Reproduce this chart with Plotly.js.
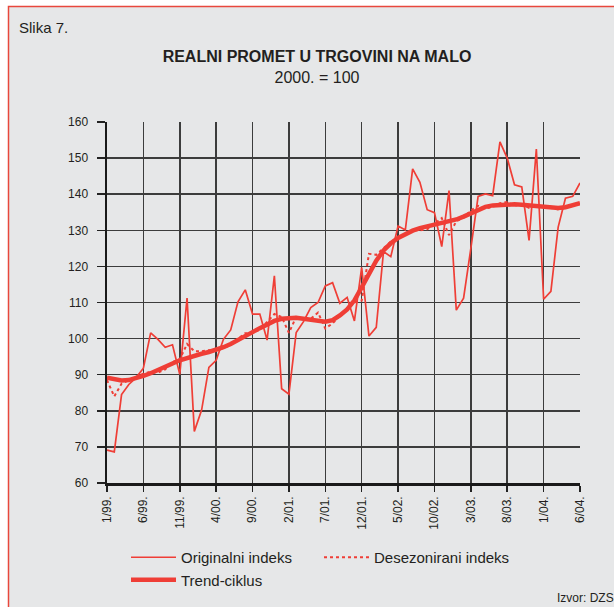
<!DOCTYPE html>
<html>
<head>
<meta charset="utf-8">
<script src="https://cdn.plot.ly/plotly-3.0.1.min.js"></script>
<style>html,body{margin:0;padding:0;background:#fff;}#chart{width:614px;height:607px;}</style>
</head>
<body>
<div id="chart"></div>
<script>
// Monthly data, 1/99 .. 6/04 (66 months)
var nMonths = 66;
var tickLabels = ['1/99.', '6/99.', '11/99.', '4/00.', '9/00.', '2/01.', '7/01.',
                  '12/01.', '5/02.', '10/02.', '3/03.', '8/03.', '1/04.', '6/04.'];

var originalIndex = [
  69.1, 68.6, 84.5, 87.3, 89.2, 91.8, 101.6, 99.8, 97.6, 98.3,
  90.1, 111.2, 74.3, 80.2, 92.0, 94.0, 99.8, 102.4, 110.2, 113.5,
  106.8, 106.8, 99.6, 117.4, 86.1, 84.6, 101.7, 104.7, 108.6, 110.0,
  114.6, 115.5, 109.8, 111.4, 104.9, 119.7, 100.7, 103.1, 124.1, 122.7,
  131.2, 130.1, 147.0, 143.3, 135.7, 134.9, 125.5, 141.0, 107.9, 111.2,
  125.0, 139.4, 140.1, 139.6, 154.5, 150.0, 142.6, 142.0, 127.2, 152.5,
  110.9, 113.1, 130.9, 138.9, 139.4, 143.1
];

var deseasonalIndex = [
  88.5, 84.0, 87.5, 88.5, 89.3, 90.3, 90.8, 90.6, 91.5, 93.5,
  94.3, 98.5, 96.5, 96.5, 96.8, 96.6, 97.4, 98.2, 100.0, 101.5,
  101.5, 102.5, 104.6, 106.8, 106.0, 101.6, 106.0, 105.2, 105.5, 107.2,
  102.8, 104.2, 106.3, 108.2, 110.0, 110.5, 123.5, 123.2, 125.0, 126.8,
  128.0, 129.0, 130.0, 130.0, 130.3, 131.8, 133.4, 128.7, 132.5, 133.5,
  135.5, 136.8, 136.0, 136.5, 137.5, 137.8, 136.8, 137.3, 136.2, 137.0,
  136.6, 136.0, 135.8, 136.2, 137.0, 137.3
];

var trendCycle = [
  89.2, 88.7, 88.4, 88.5, 89.0, 89.7, 90.4, 91.2, 92.1, 93.1,
  94.0, 94.7, 95.3, 95.8, 96.3, 96.9, 97.6, 98.5, 99.5, 100.6,
  101.8, 102.9, 104.0, 104.9, 105.5, 105.8, 105.8, 105.5, 105.2, 104.9,
  104.7, 105.1, 106.4, 108.1, 110.6, 114.2, 118.0, 121.6, 124.4, 126.4,
  127.9, 129.0, 129.9, 130.6, 131.1, 131.4, 131.8, 132.3, 133.0, 133.8,
  134.8, 135.8, 136.5, 136.9, 137.1, 137.2, 137.2, 137.1, 136.9, 136.7,
  136.5, 136.3, 136.2, 136.4, 136.9, 137.5
];

// month positions (index) and the positions of the labelled ticks
var months = [];
for (var i = 0; i < nMonths; i++) months.push(i);
var tickVals = [];
for (var k = 0; k < tickLabels.length; k++) tickVals.push(k * 5);

var red = '#ef3e36';
var font = 'Liberation Sans, Arial, Helvetica, sans-serif';
var textColor = '#231f20';

var W = 614, H = 607;
// px -> paper helpers (plot area: x 107..580, y 122..483)
var L = 107, R = 580, T = 122, B = 483;
function px(x) { return (x - L) / (R - L); }
function py(y) { return (B - y) / (B - T); }

var traces = [
  {x: months, y: trendCycle, type: 'scatter', mode: 'lines', name: 'Trend-ciklus',
   line: {color: red, width: 4.5}, legendrank: 3},
  {x: months, y: deseasonalIndex, type: 'scatter', mode: 'lines', name: 'Desezonirani indeks',
   line: {color: red, width: 2, dash: 'dot'}, legendrank: 2},
  {x: months, y: originalIndex, type: 'scatter', mode: 'lines', name: 'Originalni indeks',
   line: {color: red, width: 1.7}, legendrank: 1}
];

var layout = {
  width: W, height: H,
  margin: {l: L, r: W - R, t: T, b: H - B},
  paper_bgcolor: '#ffffff',
  plot_bgcolor: 'rgba(0,0,0,0)',
  font: {family: font, color: textColor, size: 12},
  title: {
    text: '<b>REALNI PROMET U TRGOVINI NA MALO</b><br>2000. = 100',
    font: {family: font, size: 16, color: textColor},
    xref: 'paper', x: px(317), xanchor: 'center',
    yref: 'container', y: 1 - 62 / H, yanchor: 'top'
  },
  xaxis: {
    range: [0, 65], tickmode: 'array', tickvals: tickVals, ticktext: tickLabels,
    tickangle: -90, ticks: 'outside', ticklen: 6, tickwidth: 1.5, tickcolor: '#222',
    showgrid: true, gridcolor: '#3c3c3c', gridwidth: 1.5,
    showline: true, linecolor: '#1a1a1a', linewidth: 2.5,
    zeroline: false, tickfont: {size: 12, color: textColor}, fixedrange: true,
    automargin: false
  },
  yaxis: {
    range: [60, 160], dtick: 10, tick0: 60,
    ticks: 'outside', ticklen: 8, tickwidth: 1.5, tickcolor: '#222',
    showgrid: true, gridcolor: '#3c3c3c', gridwidth: 1.5,
    showline: true, linecolor: '#1a1a1a', linewidth: 2.5,
    zeroline: false, tickfont: {size: 12, color: textColor}, fixedrange: true,
    ticklabelstandoff: 6, automargin: false
  },
  showlegend: true,
  legend: {
    orientation: 'h', xref: 'container', yref: 'container',
    x: 126 / W, xanchor: 'left', y: 1 - 541 / H, yanchor: 'top',
    bgcolor: 'rgba(0,0,0,0)', font: {family: font, size: 15, color: textColor},
    entrywidth: 133, entrywidthmode: 'pixels', itemwidth: 45, traceorder: 'normal',
    tracegroupgap: 0
  },
  shapes: [
    {type: 'rect', xref: 'paper', yref: 'paper', layer: 'below',
     x0: px(8.5), x1: px(700), y0: py(6.5), y1: py(700),
     fillcolor: '#e6e7e8', line: {color: '#e8473c', width: 1.5}}
  ],
  annotations: [
    {text: 'Slika 7.', xref: 'paper', yref: 'paper', x: px(17), y: py(27),
     xanchor: 'left', yanchor: 'middle', showarrow: false,
     font: {family: font, size: 15, color: textColor}},
    {text: 'Izvor: DZS', xref: 'paper', yref: 'paper', x: px(555), y: py(598),
     xanchor: 'left', yanchor: 'middle', showarrow: false,
     font: {family: font, size: 12, color: textColor}}
  ]
};

Plotly.newPlot('chart', traces, layout, {displayModeBar: false, staticPlot: true});
</script>
</body>
</html>
